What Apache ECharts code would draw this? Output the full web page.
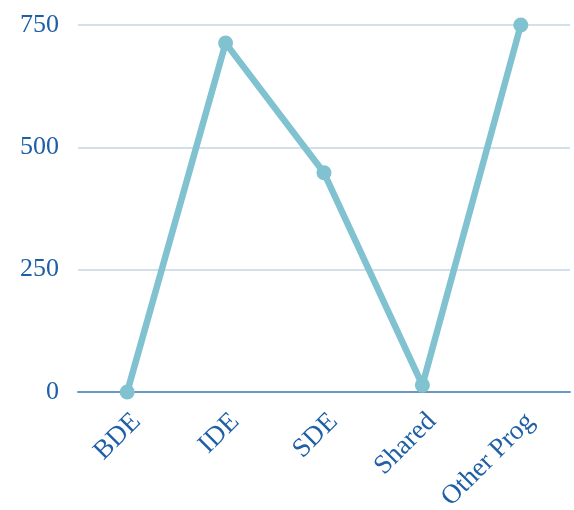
<!DOCTYPE html>
<html><head><meta charset="utf-8">
<script src="https://cdn.jsdelivr.net/npm/echarts@6/dist/echarts.min.js"></script>
<style>html,body{margin:0;padding:0;background:#fff}#c{width:574px;height:510px}</style>
</head><body><div id="c"></div>
<script>
var categories = ['BDE', 'IDE', 'SDE', 'Shared', 'Other Prog'];
var values = [0, 713, 448, 14, 750];
var yTicks = [0, 250, 500, 750];
var chart = echarts.init(document.getElementById('c'));
chart.setOption({
  animation: false,
  grid: {left: 78, right: 4, top: 25, bottom: 118, outerBoundsMode: 'none', containLabel: false},
  xAxis: {
    type: 'category', data: categories, boundaryGap: true,
    axisLine: {lineStyle: {color: '#6a97c3', width: 2}},
    axisTick: {show: false},
    axisLabel: {rotate: 45, color: '#1f5fa6', fontFamily: 'Liberation Serif', fontSize: 27, margin: 16, interval: 0, verticalAlign: 'top'}
  },
  yAxis: {
    type: 'value', min: 0, max: 750, interval: 250,
    axisLine: {show: false}, axisTick: {show: false},
    splitLine: {lineStyle: {color: '#c5d5e5', width: 1.5}},
    axisLabel: {color: '#1f5fa6', fontFamily: 'Liberation Serif', fontSize: 26, margin: 19}
  },
  series: [{
    type: 'line', data: values, symbol: 'circle', symbolSize: 15,
    lineStyle: {color: '#80c2d0', width: 6.5},
    itemStyle: {color: '#80c2d0'}
  }]
});
</script></body></html>
